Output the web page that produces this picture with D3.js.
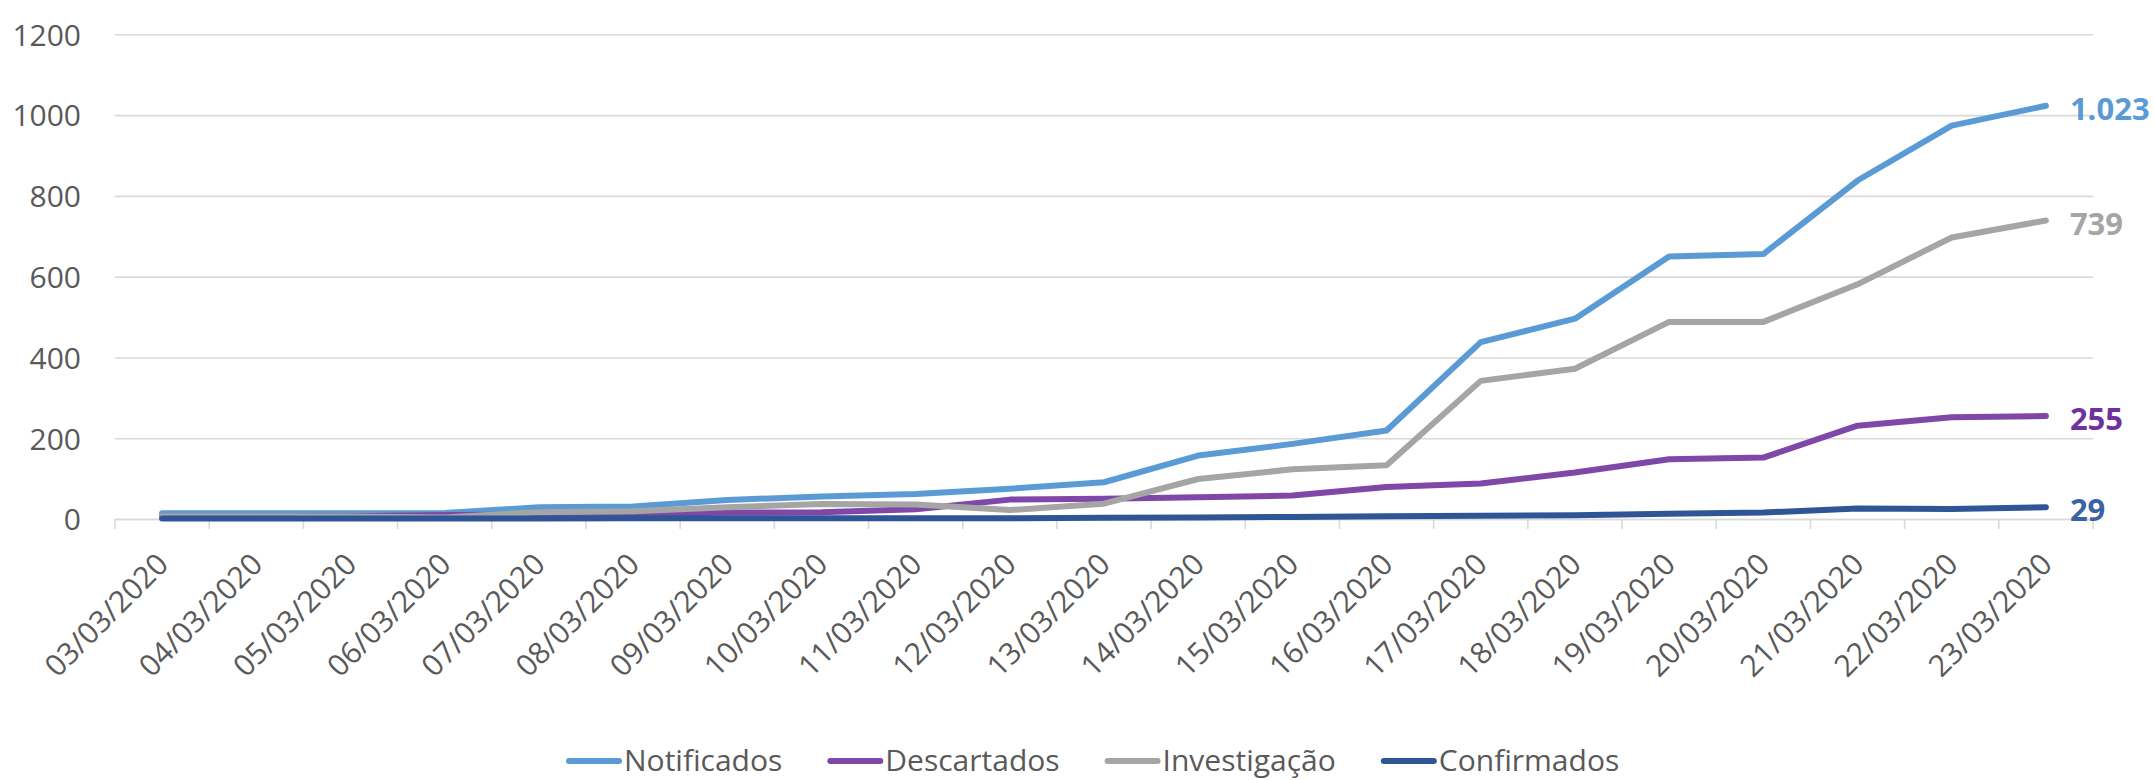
<!DOCTYPE html>
<html>
<head>
<meta charset="utf-8">
<script src="https://cdn.jsdelivr.net/npm/d3@7"></script>
<style>
  html, body { margin: 0; padding: 0; background: #ffffff; }
  svg { display: block; font-family: "Open Sans", "Noto Sans", sans-serif; }
</style>
</head>
<body>
<svg id="chart" width="2154" height="780"></svg>
<script>
// ---- data ----
const dates = ["03/03/2020","04/03/2020","05/03/2020","06/03/2020","07/03/2020","08/03/2020","09/03/2020",
  "10/03/2020","11/03/2020","12/03/2020","13/03/2020","14/03/2020","15/03/2020","16/03/2020","17/03/2020",
  "18/03/2020","19/03/2020","20/03/2020","21/03/2020","22/03/2020","23/03/2020"];
const notificados  = [14, 14, 14, 15, 29, 31, 47, 56, 62, 75, 91, 157, 186, 219, 438, 496, 650, 656, 838, 974, 1023];
const descartados  = [6, 6, 7, 10, 11, 12, 16, 17, 24, 48, 50, 54, 58, 79, 88, 115, 148, 152, 231, 252, 255];
const investigacao = [7, 7, 6, 4, 17, 19, 29, 37, 36, 22, 38, 99, 123, 133, 342, 372, 488, 488, 581, 697, 739];
const confirmados  = [1, 1, 1, 1, 1, 2, 2, 2, 2, 2, 3, 4, 5, 7, 8, 9, 13, 16, 26, 25, 29];
const yTicks = [0, 200, 400, 600, 800, 1000, 1200];
const seriesNames = ["Notificados", "Descartados", "Investigação", "Confirmados"];
const endLabels = ["1.023", "255", "739", "29"];

// ---- styles ----
const lineColors  = ["#5b9bd5", "#7f48a8", "#a5a5a5", "#2f5597"];
const labelColors = ["#5b9bd5", "#7030a0", "#a5a5a5", "#3b62a2"];
const textColor = "#595959";
const gridColor = "#d9d9d9";

const svg = d3.select("#chart");
const plotLeft = 115, plotRight = 2093, plotTop = 34.3, plotBottom = 519;

const x = d3.scaleBand().domain(dates).range([plotLeft, plotRight]).padding(0);
const cx = d => x(d) + x.bandwidth() / 2;
const y = d3.scaleLinear().domain([0, 1200]).range([plotBottom, plotTop]);

// gridlines + y labels
const yAxis = d3.axisLeft(y).tickValues(yTicks).tickFormat(d3.format("d"))
  .tickSize(-(plotRight - plotLeft)).tickPadding(34);
const gy = svg.append("g").attr("transform", `translate(${plotLeft},0)`).call(yAxis);
gy.select(".domain").remove();
gy.selectAll(".tick line").attr("stroke", gridColor).attr("stroke-width", 1.6);
gy.selectAll(".tick text").attr("fill", textColor).attr("font-size", 30)
  .attr("font-family", "'Open Sans', sans-serif").attr("dy", "0.36em");

// category axis
const xAxis = d3.axisBottom(x).tickSize(0).tickPadding(0);
const gx = svg.append("g").attr("transform", `translate(0,${plotBottom})`).call(xAxis);
gx.select(".domain").attr("stroke", gridColor).attr("stroke-width", 1.6);
gx.selectAll(".tick text")
  .attr("font-size", 30).attr("fill", textColor).attr("font-family", "'Open Sans', sans-serif")
  .attr("text-anchor", "end")
  .attr("transform", "translate(8,47) rotate(-45)")
  .attr("x", 0).attr("y", 0).attr("dy", 0);
// boundary tick marks
const bounds = dates.map(d => x(d)).concat([x(dates[dates.length - 1]) + x.bandwidth()]);
svg.append("g").selectAll("line").data(bounds).join("line")
  .attr("x1", d => d).attr("x2", d => d)
  .attr("y1", plotBottom).attr("y2", plotBottom + 10)
  .attr("stroke", gridColor).attr("stroke-width", 1.6);

// lines
const allSeries = [notificados, descartados, investigacao, confirmados];
const line = d3.line().x((v, i) => cx(dates[i])).y(v => y(v));
svg.append("g").selectAll("path").data(allSeries).join("path")
  .attr("d", line)
  .attr("fill", "none")
  .attr("stroke", (d, i) => lineColors[i])
  .attr("stroke-width", 6)
  .attr("stroke-linejoin", "round")
  .attr("stroke-linecap", "round");

// end labels
svg.append("g").selectAll("text").data(allSeries).join("text")
  .attr("x", cx(dates[dates.length - 1]) + 24)
  .attr("y", d => y(d[d.length - 1]) + 3)
  .attr("dy", "0.36em")
  .attr("font-size", 31).attr("font-weight", 700)
  .attr("fill", (d, i) => labelColors[i])
  .text((d, i) => endLabels[i]);

// legend
const legend = svg.append("g").attr("transform", "translate(567,761)");
let lx = 0;
seriesNames.forEach((name, i) => {
  const g = legend.append("g").attr("transform", `translate(${lx},0)`);
  g.append("line").attr("x1", 2).attr("x2", 52).attr("y1", 0).attr("y2", 0)
    .attr("stroke", lineColors[i]).attr("stroke-width", 6).attr("stroke-linecap", "round");
  const t = g.append("text").attr("x", 57).attr("y", 10)
    .attr("font-size", 30).attr("fill", textColor).text(name);
  lx += 57 + t.node().getComputedTextLength() + 46;
});
</script>
</body>
</html>
